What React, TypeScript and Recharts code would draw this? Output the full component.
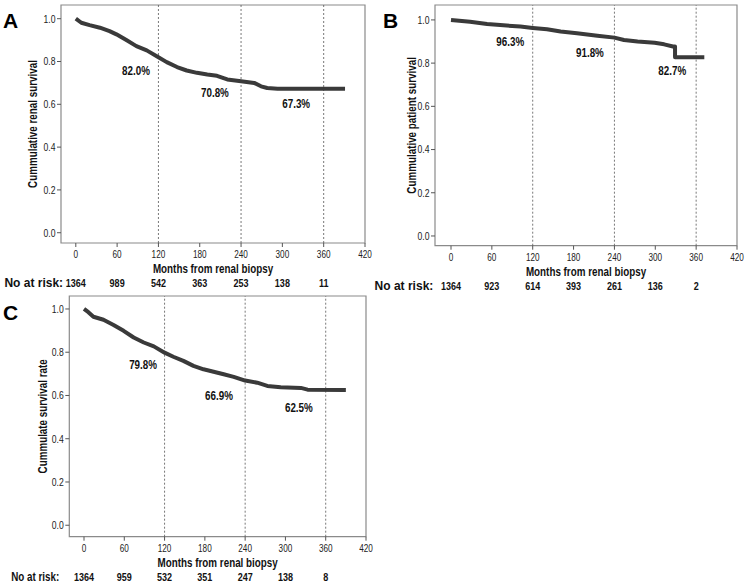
import { LineChart, Line, XAxis, YAxis, ReferenceLine, ReferenceArea, ReferenceDot } from "recharts";

const SANS = "'Liberation Sans', Arial, sans-serif";
const SQUEEZE = 0.82; // the figure's text is horizontally compressed

const xTicks = [0, 60, 120, 180, 240, 300, 360, 420];
const yTicks = [0, 0.2, 0.4, 0.6, 0.8, 1.0];
const riskTicks = [0, 60, 120, 180, 240, 300, 360];
const cutoffMonths = [120, 240, 360];
const xTitle = "Months from renal biopsy";

// A: renal survival
const monthsA = [0, 8, 20, 35, 49, 59, 74, 88, 103, 120, 132, 147, 161, 176, 191, 205, 220, 240, 259, 269, 278, 293, 327, 360, 391];
const survA = [1.0, 0.981, 0.97, 0.958, 0.942, 0.927, 0.899, 0.872, 0.852, 0.82, 0.797, 0.774, 0.758, 0.747, 0.739, 0.733, 0.716, 0.708, 0.7, 0.684, 0.676, 0.673, 0.673, 0.673, 0.673];
const riskA = [1364, 989, 542, 363, 253, 138, 11];
const noteMonthsA = [87.5, 202, 320];
const noteValuesA = [0.756, 0.653, 0.601];
const noteTextA = ["82.0%", "70.8%", "67.3%"];

// B: patient survival
const monthsB = [0, 28, 53, 77, 102, 120, 141, 161, 185, 215, 240, 254, 274, 299, 313, 326, 329, 329, 372];
const survB = [1.0, 0.991, 0.981, 0.975, 0.969, 0.963, 0.957, 0.946, 0.938, 0.927, 0.918, 0.907, 0.9, 0.894, 0.887, 0.877, 0.877, 0.827, 0.827];
const riskB = [1364, 923, 614, 393, 261, 136, 2];
const noteMonthsB = [87, 204, 325];
const noteValuesB = [0.898, 0.85, 0.767];
const noteTextB = ["96.3%", "91.8%", "82.7%"];

// C: combined survival
const monthsC = [0, 6.5, 14, 29, 44, 59, 74, 89, 104, 120, 133, 148, 163, 178, 193, 208, 223, 240, 258, 273, 293, 323, 333, 390];
const survC = [1.0, 0.985, 0.964, 0.95, 0.926, 0.899, 0.868, 0.845, 0.827, 0.798, 0.779, 0.76, 0.737, 0.721, 0.71, 0.698, 0.686, 0.669, 0.659, 0.644, 0.638, 0.635, 0.627, 0.625];
const riskC = [1364, 959, 532, 351, 247, 138, 8];
const noteMonthsC = [88, 201, 320];
const noteValuesC = [0.741, 0.598, 0.542];
const noteTextC = ["79.8%", "66.9%", "62.5%"];

type TextProps = {
  x: number;
  y: number;
  anchor?: "start" | "middle" | "end";
  size?: number;
  bold?: boolean;
  rotate?: boolean;
  squeeze?: number;
  fill?: string;
  children: any;
};

function NText({ x, y, anchor = "middle", size = 12, bold = true, rotate = false, squeeze = SQUEEZE, fill = "#111", children }: TextProps) {
  const t = `translate(${x} ${y})${rotate ? " rotate(-90)" : ""} scale(${squeeze} 1)`;
  return (
    <text transform={t} textAnchor={anchor} dominantBaseline="central" fontFamily={SANS}
      fontWeight={bold ? "bold" : "normal"} fontSize={size} fill={fill}>
      {children}
    </text>
  );
}

const XTick = (props: any) => (
  <NText x={props.x} y={props.y + 3.5} size={10} bold={false} fill="#222">{props.payload.value}</NText>
);

const YTick = (props: any) => (
  <NText x={props.x} y={props.y} anchor="end" size={10.5} bold={false} fill="#222">{Number(props.payload.value).toFixed(1)}</NText>
);

type PanelProps = {
  left: number;
  top: number;
  width: number;
  height: number;
  marginTop: number;
  marginRight: number;
  yAxisWidth: number;
  riskHeight: number;
  xDomain: [number, number];
  yDomain: [number, number];
  months: number[];
  values: number[];
  risk: number[];
  noteMonths: number[];
  noteValues: number[];
  noteText: string[];
  yTitle: string;
  yTitleOffset: number;
  riskGap: number;
  riskLabelSqueeze: number;
};

function Panel(p: PanelProps) {
  const data = p.months.map((m, i) => ({ month: m, surv: p.values[i] }));

  const yTitleRender = (props: any) => {
    const vb = props.viewBox;
    return (
      <NText x={vb.x + vb.width - p.yTitleOffset} y={vb.y + vb.height / 2} rotate size={12}>{p.yTitle}</NText>
    );
  };

  const xTitleRender = (props: any) => {
    const vb = props.viewBox;
    return <NText x={vb.x + vb.width / 2} y={vb.y + 26} size={12}>{xTitle}</NText>;
  };

  const RiskTick = (props: any) => {
    const { x, y, payload } = props;
    const idx = riskTicks.indexOf(payload.value);
    return (
      <g>
        {idx === 0 && (
          <NText x={x - p.riskGap} y={y + 7} anchor="end" size={12} squeeze={p.riskLabelSqueeze}>No at risk:</NText>
        )}
        <NText x={x} y={y + 7} size={11}>{p.risk[idx]}</NText>
      </g>
    );
  };

  return (
    <div style={{ position: "absolute", left: p.left, top: p.top }}>
      <LineChart
        width={p.width}
        height={p.height}
        data={data}
        margin={{ top: p.marginTop, right: p.marginRight, left: 0, bottom: 0 }}
      >
        <XAxis
          dataKey="month"
          type="number"
          domain={p.xDomain}
          ticks={xTicks}
          interval={0}
          height={33}
          axisLine={false}
          tickSize={4}
          tickMargin={4.5}
          stroke="#555"
          tick={<XTick />}
          label={xTitleRender}
        />
        <XAxis
          xAxisId="risk"
          dataKey="month"
          type="number"
          domain={p.xDomain}
          ticks={riskTicks}
          interval={0}
          height={p.riskHeight}
          axisLine={false}
          tickLine={false}
          tickSize={0}
          tickMargin={0}
          tick={<RiskTick />}
        />
        <YAxis
          type="number"
          domain={p.yDomain}
          ticks={yTicks}
          interval={0}
          width={p.yAxisWidth}
          axisLine={false}
          tickSize={4}
          tickMargin={1.5}
          stroke="#555"
          tick={<YTick />}
          label={yTitleRender}
        />
        <ReferenceArea
          x1={p.xDomain[0]}
          x2={p.xDomain[1]}
          y1={p.yDomain[0]}
          y2={p.yDomain[1]}
          fill="none"
          stroke="#8a8a8a"
          strokeWidth={1.2}
          ifOverflow="visible"
        />
        {cutoffMonths.map((m) => (
          <ReferenceLine key={m} x={m} stroke="#555" strokeDasharray="2 2" strokeWidth={0.8} />
        ))}
        <Line
          dataKey="surv"
          type="linear"
          stroke="#3a3a3a"
          strokeWidth={4}
          strokeLinejoin="round"
          dot={false}
          isAnimationActive={false}
        />
        {p.noteMonths.map((m, i) => (
          <ReferenceDot
            key={i}
            x={m}
            y={p.noteValues[i]}
            r={0}
            shape={(s: any) => <NText x={s.cx} y={s.cy} size={12}>{p.noteText[i]}</NText>}
          />
        ))}
      </LineChart>
    </div>
  );
}

const letterStyle = {
  position: "absolute" as const,
  fontFamily: SANS,
  fontWeight: "bold" as const,
  fontSize: 21,
  lineHeight: "21px",
  color: "#000",
};

export default function App() {
  return (
    <div style={{ position: "absolute", left: 0, top: 0, width: 748, height: 582, background: "#fff", overflow: "hidden" }}>
      <Panel
        left={0} top={0} width={378} height={300}
        marginTop={5} marginRight={13} yAxisWidth={61} riskHeight={24}
        xDomain={[-21.5, 420]} yDomain={[-0.048, 1.064]}
        months={monthsA} values={survA} risk={riskA}
        noteMonths={noteMonthsA} noteValues={noteValuesA} noteText={noteTextA}
        yTitle="Cummulative renal survival" yTitleOffset={28} riskGap={12.7} riskLabelSqueeze={1}
      />
      <Panel
        left={366} top={0} width={382} height={300}
        marginTop={5} marginRight={11} yAxisWidth={69} riskHeight={21.3}
        xDomain={[-23.5, 420]} yDomain={[-0.045, 1.069]}
        months={monthsB} values={survB} risk={riskB}
        noteMonths={noteMonthsB} noteValues={noteValuesB} noteText={noteTextB}
        yTitle="Cummulative patient survival" yTitleOffset={23.5} riskGap={17.7} riskLabelSqueeze={1}
      />
      <Panel
        left={0} top={290} width={378} height={292}
        marginTop={6} marginRight={12} yAxisWidth={69.3} riskHeight={12.3}
        xDomain={[-21.9, 420]} yDomain={[-0.053, 1.06]}
        months={monthsC} values={survC} risk={riskC}
        noteMonths={noteMonthsC} noteValues={noteValuesC} noteText={noteTextC}
        yTitle="Cummulate survival rate" yTitleOffset={27} riskGap={24.7} riskLabelSqueeze={SQUEEZE}
      />
      <div style={{ ...letterStyle, left: 3, top: 10 }}>A</div>
      <div style={{ ...letterStyle, left: 383, top: 10 }}>B</div>
      <div style={{ ...letterStyle, left: 3, top: 302 }}>C</div>
    </div>
  );
}
